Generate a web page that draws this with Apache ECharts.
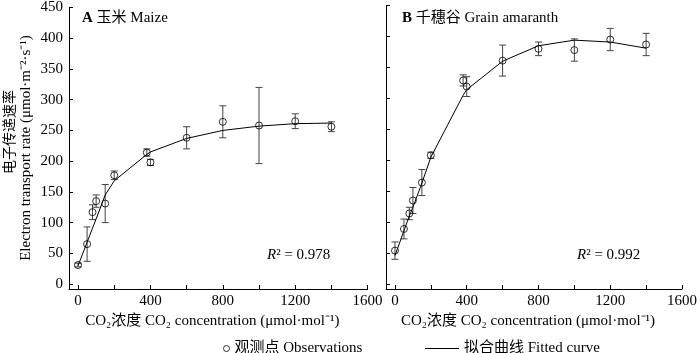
<!DOCTYPE html>
<html>
<head>
<meta charset="utf-8">
<script src="https://cdn.jsdelivr.net/npm/echarts@6/dist/echarts.min.js"></script>
<style>html,body{margin:0;padding:0;background:#fff;}#c{width:700px;height:353px;}</style>
</head>
<body>
<div id="c"></div>
<script>
// ---- data ----
const co2 = [0, 50, 80, 100, 150, 200, 380, 400, 600, 800, 1000, 1200, 1400];
const maizeMean = [31, 65, 117, 135, 131, 177, 214, 198, 238, 264, 258, 265, 256];
const maizeSD   = [3, 28, 12, 10, 31, 7, 6, 5, 18, 26, 62, 12, 8];
const maizeFit  = [30, 68, 91, 106, 145, 168, 211, 215, 237, 250, 257, 261, 262];
const amarMean = [54, 89, 114, 135, 164, 208, 329, 319, 361, 380, 378, 395, 387];
const amarSD   = [14, 16, 10, 21, 21, 5, 9, 16, 25, 11, 18, 18, 18];
const amarFit  = [46, 86, 110, 124, 163, 205, 305, 314, 360, 385, 394, 391, 381];
const xTickValues = [0, 200, 400, 600, 800, 1000, 1200, 1400, 1600];
const xLabelValues = [0, 400, 800, 1200, 1600];
const yTickValues = [0, 50, 100, 150, 200, 250, 300, 350, 400, 450];
const panelTitles = ['A', ' 玉米 Maize', 'B', ' 千穗谷 Grain amaranth'];
const r2Values = ['0.978', '0.992'];
const xName = 'CO₂浓度 CO₂ concentration (μmol·mol⁻¹)';
const yNameCN = '电子传递速率';
const yNameEN = 'Electron transport rate (μmol·m⁻²·s⁻¹)';
const obsName = '观测点 Observations';
const fitName = '拟合曲线 Fitted curve';

const FONT = '"Liberation Serif", "Times New Roman", "Noto Sans CJK SC", serif';

const pts = (m) => co2.map((x, i) => [x, m[i]]);
const bars = (m, s) => co2.map((x, i) => [x, m[i] - s[i], m[i] + s[i]]);

function xAxis(gi) {
  return {
    gridIndex: gi, type: 'value', min: -50, max: 1600,
    axisLine: { onZero: false, lineStyle: { color: '#000', width: 1 } },
    axisTick: { inside: true, length: 4, customValues: xTickValues, lineStyle: { color: '#000' } },
    axisLabel: { customValues: xLabelValues, color: '#000', fontFamily: FONT, fontSize: 15, margin: 5,
      formatter: (v) => String(v) },
    splitLine: { show: false },
    name: xName, nameLocation: 'middle', nameGap: 24,
    nameTextStyle: { color: '#000', fontFamily: FONT, fontSize: 15, padding: [0, 12, 0, 0] }
  };
}
function yAxis(gi, showLabel) {
  return {
    gridIndex: gi, type: 'value', min: -8, max: 450,
    axisLine: { onZero: false, lineStyle: { color: '#000', width: 1 } },
    axisTick: { inside: true, length: 4, customValues: yTickValues, lineStyle: { color: '#000' } },
    axisLabel: { show: showLabel, customValues: yTickValues, color: '#000', fontFamily: FONT, fontSize: 15, margin: 6,
      formatter: (v) => String(v) },
    splitLine: { show: false }
  };
}

function errRender(params, api) {
  const x = api.value(0), lo = api.value(1), hi = api.value(2);
  const a = api.coord([x, lo]), b = api.coord([x, hi]);
  const w = 3.5;
  const st = { stroke: '#444', lineWidth: 1 };
  return { type: 'group', children: [
    { type: 'line', shape: { x1: a[0], y1: a[1], x2: b[0], y2: b[1] }, style: st },
    { type: 'line', shape: { x1: a[0] - w, y1: a[1], x2: a[0] + w, y2: a[1] }, style: st },
    { type: 'line', shape: { x1: b[0] - w, y1: b[1], x2: b[0] + w, y2: b[1] }, style: st }
  ]};
}

function seriesFor(i, mean, sd, fit) {
  return [
    { type: 'custom', xAxisIndex: i, yAxisIndex: i, renderItem: errRender, data: bars(mean, sd), z: 1, silent: true },
    { name: fitName, type: 'line', xAxisIndex: i, yAxisIndex: i, data: pts(fit), symbol: 'none', showSymbol: false,
      lineStyle: { color: '#000', width: 1 }, itemStyle: { color: '#000' }, z: 2, animation: false },
    { name: obsName, type: 'scatter', xAxisIndex: i, yAxisIndex: i, data: pts(mean), symbol: 'circle', symbolSize: 7,
      itemStyle: { color: 'rgba(0,0,0,0)', borderColor: '#000', borderWidth: 1 }, z: 3 }
  ];
}

const chart = echarts.init(document.getElementById('c'), null, { renderer: 'canvas' });
chart.setOption({
  animation: false,
  backgroundColor: '#fff',
  grid: [
    { left: 69, top: 5.5, width: 298.6, height: 283.5 },
    { left: 386, top: 5.5, width: 299.5, height: 283.5 }
  ],
  xAxis: [xAxis(0), xAxis(1)],
  yAxis: [yAxis(0, true), yAxis(1, false)],
  legend: [
    { data: [{ name: obsName, icon: 'circle', itemStyle: { color: 'rgba(0,0,0,0)', borderColor: '#000', borderWidth: 1 } }],
      left: 218, top: 336, itemWidth: 6, itemHeight: 6,
      textStyle: { color: '#000', fontFamily: FONT, fontSize: 15 }, selectedMode: false },
    { data: [{ name: fitName, icon: 'rect', itemStyle: { color: '#000', borderWidth: 0 } }],
      left: 420, top: 336, itemWidth: 34, itemHeight: 1,
      textStyle: { color: '#000', fontFamily: FONT, fontSize: 15 }, selectedMode: false }
  ],
  graphic: [
    { type: 'text', left: 82, top: 11, style: { text: '{b|' + panelTitles[0] + '}{n|' + panelTitles[1] + '}',
      rich: { b: { fontWeight: 'bold', fontFamily: FONT, fontSize: 15, fill: '#000' }, n: { fontFamily: FONT, fontSize: 15, fill: '#000' } } } },
    { type: 'text', left: 402, top: 11, style: { text: '{b|' + panelTitles[2] + '}{n|' + panelTitles[3] + '}',
      rich: { b: { fontWeight: 'bold', fontFamily: FONT, fontSize: 15, fill: '#000' }, n: { fontFamily: FONT, fontSize: 15, fill: '#000' } } } },
    { type: 'text', left: 267, top: 248, style: { text: '{i|R}² = ' + r2Values[0],
      rich: { i: { fontStyle: 'italic', fontFamily: FONT, fontSize: 15, fill: '#000' } }, font: '15px ' + FONT, fill: '#000' } },
    { type: 'text', left: 577, top: 248, style: { text: '{i|R}² = ' + r2Values[1],
      rich: { i: { fontStyle: 'italic', fontFamily: FONT, fontSize: 15, fill: '#000' } }, font: '15px ' + FONT, fill: '#000' } },
    { type: 'text', x: 9, y: 132, rotation: Math.PI / 2,
      style: { text: yNameCN, font: '14px "Noto Sans CJK SC", sans-serif', fill: '#000', align: 'center', verticalAlign: 'middle' } },
    { type: 'text', x: 26, y: 148, rotation: Math.PI / 2,
      style: { text: yNameEN, font: '15px ' + FONT, fill: '#000', align: 'center', verticalAlign: 'middle' } }
  ],
  series: [].concat(seriesFor(0, maizeMean, maizeSD, maizeFit), seriesFor(1, amarMean, amarSD, amarFit))
});
</script>
</body>
</html>
